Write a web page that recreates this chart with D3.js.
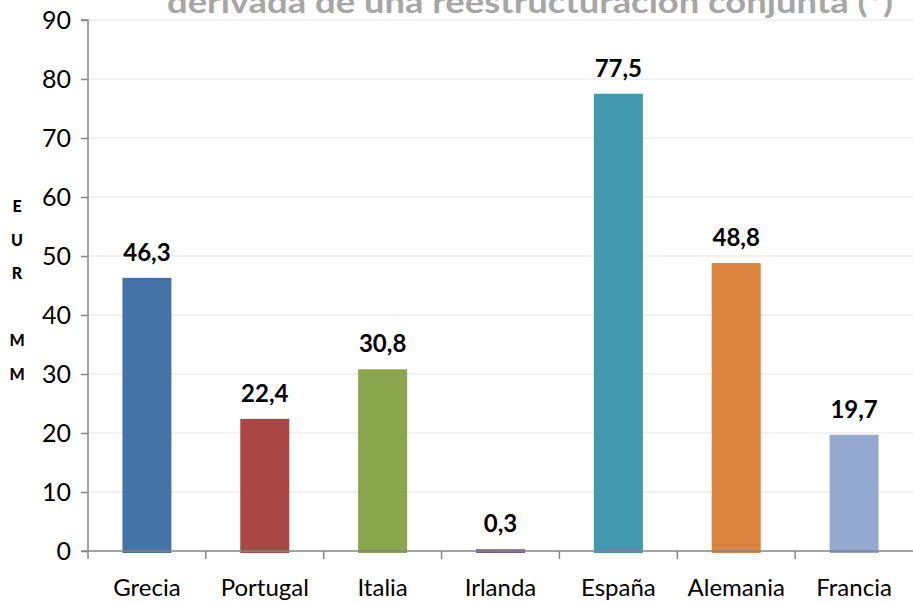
<!DOCTYPE html>
<html><head><meta charset="utf-8">
<script src="https://cdn.jsdelivr.net/npm/d3@7"></script>
<style>
html,body{margin:0;padding:0;background:#fff;}
svg{display:block;font-family:Lato, "Open Sans", sans-serif;}
</style></head>
<body>
<svg id="chart" width="913" height="602"></svg>
<script>
const categories = ["Grecia","Portugal","Italia","Irlanda","España","Alemania","Francia"];
const values = [46.3, 22.4, 30.8, 0.3, 77.5, 48.8, 19.7];
const valueLabels = ["46,3","22,4","30,8","0,3","77,5","48,8","19,7"];
const colors = ["#4572a7","#aa4643","#89a54e","#71588f","#4198af","#db843d","#93a9cf"];
const yTicks = [0,10,20,30,40,50,60,70,80,90];
const titleText = "derivada de una reestructuración conjunta (*)";
const yLabelChars = ["E","U","R","","M","M"];

(function(){
const svg = d3.select("#chart");
const mLeft = 88, mRight = 913, mTop = 20, mBottom = 551;

const x = d3.scaleBand().domain(categories).range([mLeft, mRight]).paddingInner(0.584).paddingOuter(0.292);
const y = d3.scaleLinear().domain([0, 90]).range([mBottom, mTop]);
const step = x.step();

// title (cut off at top in the reference)
svg.append("text").attr("x", 167).attr("y", 13)
  .attr("font-size", 31).attr("font-weight", "bold").attr("fill", "#a6a6a6")
  .attr("textLength", 726).attr("lengthAdjust", "spacingAndGlyphs")
  .text(titleText);

// gridlines
svg.append("g").selectAll("line").data(yTicks.filter(t => t > 0)).join("line")
  .attr("x1", mLeft).attr("x2", mRight).attr("y1", d => y(d)).attr("y2", d => y(d))
  .attr("stroke", "#ededed").attr("stroke-width", 1.5);

// bars
svg.append("g").selectAll("rect").data(categories).join("rect")
  .attr("x", d => x(d)).attr("width", x.bandwidth())
  .attr("y", (d,i) => y(values[i])).attr("height", (d,i) => y(0) - y(values[i]) + 2)
  .attr("fill", (d,i) => colors[i]);

// y axis
const yAxis = d3.axisLeft(y).tickValues(yTicks).tickSize(7).tickPadding(10).tickFormat(d3.format("d"));
const gy = svg.append("g").attr("transform", `translate(${mLeft},0)`).call(yAxis);
gy.select(".domain").attr("stroke", "#868686").attr("stroke-width", 1.5).attr("d", `M-7,${mTop}H0V${mBottom + 8}`);
gy.selectAll(".tick line").attr("stroke", "#868686").attr("stroke-width", 1.5);
gy.selectAll(".tick text").attr("font-size", 25).attr("fill", "#000").attr("font-family", "Lato");

// x axis line
svg.append("line").attr("x1", mLeft - 7).attr("x2", mRight).attr("y1", mBottom).attr("y2", mBottom)
  .attr("stroke", "#868686").attr("stroke-width", 1.5);
// x ticks at band boundaries
svg.append("g").selectAll("line").data(categories.slice(0, -1)).join("line")
  .attr("x1", d => x(d) + x.bandwidth() + (step - x.bandwidth()) / 2)
  .attr("x2", d => x(d) + x.bandwidth() + (step - x.bandwidth()) / 2)
  .attr("y1", mBottom).attr("y2", mBottom + 8)
  .attr("stroke", "#868686").attr("stroke-width", 1.5);

// category labels
svg.append("g").selectAll("text").data(categories).join("text")
  .attr("x", d => x(d) + x.bandwidth() / 2).attr("y", 596)
  .attr("text-anchor", "middle").attr("font-size", 24).attr("fill", "#000")
  .text(d => d);

// value labels
svg.append("g").selectAll("text").data(categories).join("text")
  .attr("x", d => x(d) + x.bandwidth() / 2).attr("y", (d,i) => y(values[i]) - 17)
  .attr("text-anchor", "middle").attr("font-size", 24).attr("font-weight", "bold").attr("fill", "#000")
  .text((d,i) => valueLabels[i]);

// y label stacked letters
svg.append("g").selectAll("text").data(yLabelChars).join("text")
  .attr("x", 17).attr("y", (d,i) => 212 + i * 33.5)
  .attr("text-anchor", "middle").attr("font-size", 16).attr("font-weight", "900").attr("fill", "#000")
  .text(d => d);
})();
</script>
</body></html>
